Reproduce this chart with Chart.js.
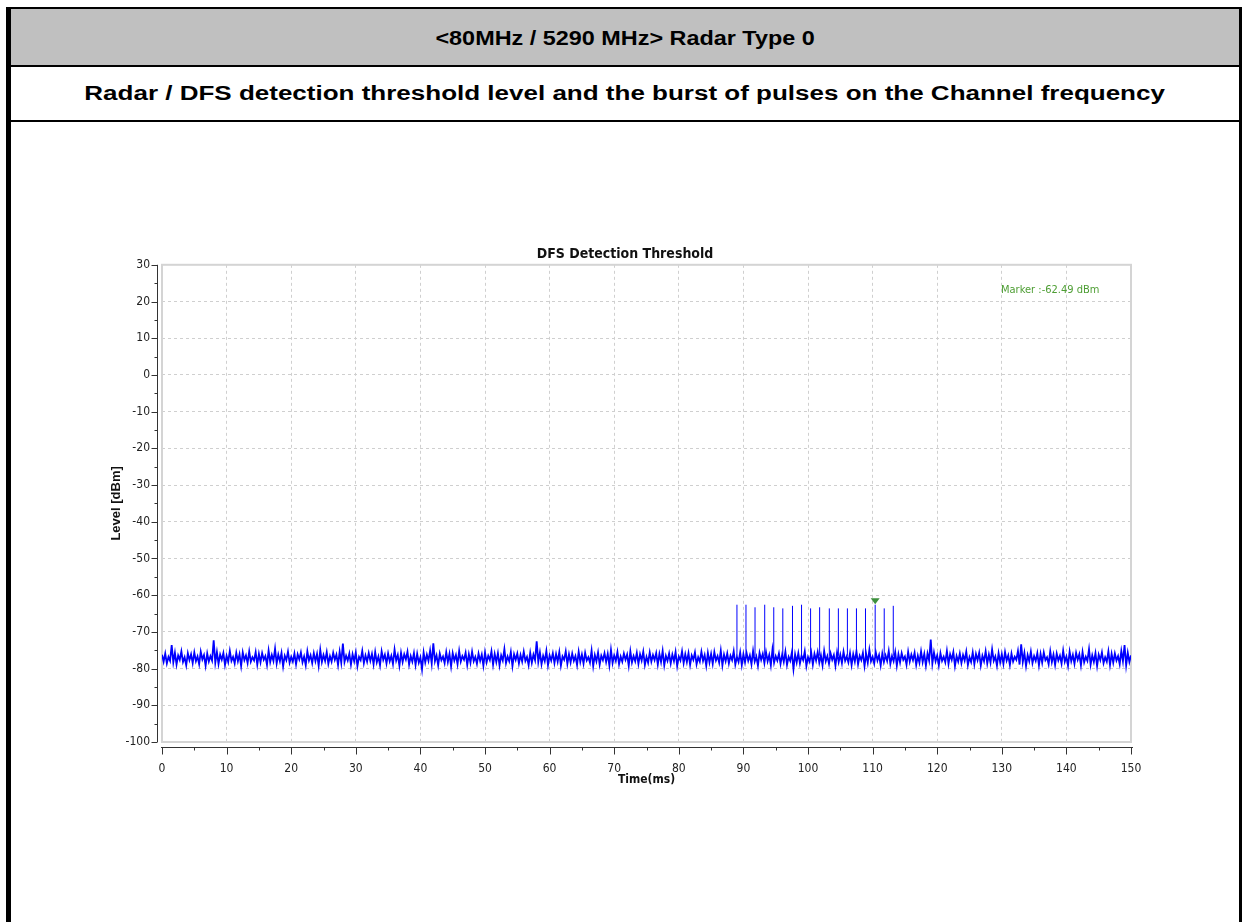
<!DOCTYPE html>
<html>
<head>
<meta charset="utf-8">
<script src="https://cdn.jsdelivr.net/npm/chart.js@4.4.1/dist/chart.umd.min.js"></script>
<style>
  body { margin: 0; width: 1242px; height: 922px; overflow: hidden; background: #fff; font-family: "Liberation Sans", Arial, sans-serif; }
  #frame { position: absolute; left: 6px; top: 7px; width: 1228px; height: 920px; border-left: 5px solid #000; border-right: 3px solid #000; border-top: 2px solid #000; }
  #head { height: 56px; background: #c0c0c0; border-bottom: 2px solid #000; text-align: center; font-weight: bold; font-size: 20px; line-height: 58px; }
  #sub { height: 53px; border-bottom: 2px solid #000; text-align: center; font-weight: bold; font-size: 20px; line-height: 53px; }
  #head span, #sub span { display: inline-block; }
  #head span { transform: scaleX(1.17); }
  #sub span { transform: scaleX(1.3); }
  #chartBox { position: absolute; left: 0; top: 0; width: 1242px; height: 922px; }
</style>
</head>
<body>
<div id="frame">
  <div id="head"><span>&lt;80MHz / 5290 MHz&gt; Radar Type 0</span></div>
  <div id="sub"><span>Radar / DFS detection threshold level and the burst of pulses on the Channel frequency</span></div>
</div>
<div id="chartBox"><canvas id="dfsChart" width="1242" height="922"></canvas></div>
<script>
// noise floor trace, one reading every 0.25 ms from 0 to 150 ms (dBm)
var noiseStep = 0.25;
var noiseLevels = [
  -76.2,-78.1,-75.9,-78.6,-76.8,-77.9,-73.6,-78.3,-75.7,-78.9,-76.4,-77.6,-75.3,-78.2,-76.9,-79.1,-75.8,-77.7,-76.1,-78.5,
  -75.6,-78.0,-76.7,-78.8,-75.4,-77.5,-76.3,-79.2,-75.9,-78.1,-76.6,-77.8,-72.3,-78.4,-75.5,-78.7,-76.2,-77.6,-75.8,-79.0,
  -76.5,-78.2,-75.2,-77.9,-76.8,-78.6,-75.7,-78.0,-76.1,-79.3,-75.6,-77.7,-76.4,-78.5,-75.3,-78.1,-76.9,-77.8,-75.5,-78.9,
  -76.0,-78.3,-75.8,-77.6,-76.6,-79.0,-75.1,-78.2,-76.3,-77.9,-74.6,-78.6,-76.2,-78.0,-75.7,-79.4,-76.5,-77.7,-75.4,-78.4,
  -76.8,-78.1,-75.9,-78.8,-76.1,-77.5,-75.6,-78.3,-76.7,-79.1,-75.3,-77.8,-76.4,-78.5,-75.8,-78.0,-76.0,-79.2,-74.9,-78.2,
  -76.3,-77.9,-75.5,-78.7,-76.6,-78.1,-75.7,-77.6,-76.2,-79.0,-75.4,-78.4,-73.2,-78.2,-76.5,-77.8,-75.9,-78.9,-76.1,-78.0,
  -75.6,-79.3,-76.8,-77.7,-75.2,-78.5,-76.4,-78.1,-75.8,-77.9,-76.0,-78.8,-75.5,-78.3,-76.7,-79.1,-75.3,-77.6,-76.2,-78.6,
  -75.9,-78.0,-76.5,-78.7,-74.8,-77.8,-76.3,-79.2,-75.7,-78.2,-76.1,-77.5,-75.4,-78.9,-76.6,-78.1,-75.8,-79.0,-76.0,-78.4,
  -76.9,-80.2,-75.6,-78.3,-76.2,-77.9,-75.1,-78.6,-73.1,-78.0,-76.4,-79.1,-75.9,-77.7,-76.7,-78.5,-75.5,-78.2,-76.0,-79.4,
  -75.8,-77.8,-76.3,-78.8,-75.2,-78.1,-76.6,-77.6,-75.7,-79.0,-76.1,-78.4,-75.4,-78.0,-76.8,-78.7,-75.9,-77.9,-76.2,-79.2,
  -75.6,-78.3,-76.5,-77.7,-75.3,-78.9,-76.0,-78.2,-75.8,-79.1,-76.4,-77.8,-74.7,-78.5,-76.7,-78.0,-75.5,-79.3,-76.1,-77.6,
  -75.9,-78.6,-76.3,-78.1,-75.4,-77.9,-76.8,-79.0,-75.7,-78.4,-76.2,-77.7,-72.6,-78.2,-75.6,-78.8,-76.5,-78.0,-75.2,-79.1,
  -76.4,-77.8,-75.8,-78.5,-76.0,-78.1,-75.5,-79.2,-76.7,-77.6,-75.3,-78.7,-76.1,-78.3,-75.9,-77.9,-76.6,-79.0,-75.4,-78.2,
  -76.2,-78.6,-75.7,-77.8,-76.9,-78.4,-75.1,-79.3,-76.3,-78.0,-75.6,-78.9,-76.5,-77.7,-75.8,-78.2,-76.0,-79.1,-74.9,-78.5,
  -76.4,-77.9,-75.5,-78.8,-76.7,-78.1,-75.9,-77.6,-76.2,-79.2,-75.3,-78.3,-76.6,-78.0,-75.7,-78.7,-76.1,-77.8,-75.4,-79.0,
  -76.8,-78.4,-75.6,-78.1,-76.3,-77.7,-75.8,-78.9,-76.0,-78.2,-75.2,-79.1,-76.5,-77.9,-75.9,-78.6,-76.2,-78.0,-75.5,-79.3,
  -76.7,-77.8,-75.3,-78.5,-76.1,-78.2,-75.8,-79.0,-76.4,-77.6,-75.6,-78.8,-76.9,-78.1,-75.4,-77.9,-76.3,-79.2,-75.7,-78.3,
  -76.0,-78.7,-75.5,-77.8,-76.6,-78.4,-75.1,-79.1,-76.2,-78.0,-75.9,-78.6,-76.5,-77.7,-75.3,-78.9,-76.8,-78.2,-75.6,-79.0,
  -76.1,-78.3,-75.8,-77.9,-76.4,-78.8,-75.2,-78.1,-76.7,-79.2,-75.7,-77.6,-76.0,-78.5,-75.5,-78.0,-76.3,-79.1,-74.8,-78.4,
  -76.6,-77.8,-75.9,-78.7,-76.2,-78.2,-75.4,-79.0,-76.8,-77.9,-75.6,-80.1,-76.1,-78.3,-75.8,-78.6,-76.5,-77.7,-75.3,-79.3,
  -76.9,-78.1,-75.7,-78.9,-76.0,-77.8,-75.5,-78.4,-76.4,-79.1,-75.2,-78.0,-76.6,-78.7,-75.9,-77.6,-76.3,-79.2,-75.6,-78.2,
  -76.2,-78.5,-75.4,-77.9,-76.7,-78.3,-75.8,-79.0,-76.1,-78.1,-75.3,-78.8,-76.5,-77.7,-75.7,-79.3,-76.0,-78.4,-74.9,-78.0,
  -76.8,-78.6,-75.6,-77.8,-76.3,-79.1,-75.9,-78.2,-76.4,-77.9,-75.2,-78.7,-76.6,-78.0,-75.5,-79.2,-76.1,-78.3,-75.8,-77.6,
  -76.7,-78.9,-75.4,-78.1,-76.2,-77.7,-75.7,-79.0,-76.5,-78.4,-75.3,-78.2,-76.0,-79.2,-75.9,-77.8,-72.1,-78.6,-75.6,-78.0,
  -76.4,-79.1,-75.8,-77.9,-76.8,-78.3,-75.2,-78.7,-76.1,-77.6,-75.5,-79.3,-76.6,-78.1,-75.9,-78.5,-76.3,-77.8,-75.4,-79.0,
  -76.9,-78.2,-75.6,-78.8,-76.0,-77.7,-75.7,-79.1,-76.5,-78.0,-75.3,-78.6,-76.2,-78.4,-74.8,-77.9,-76.7,-79.2,-75.8,-78.3,
  -76.1,-78.7,-75.5,-77.8,-76.4,-79.0,-75.9,-78.1,-76.8,-77.6,-75.2,-78.9,-73.4,-78.2,-75.7,-79.3,-76.3,-78.0,-75.4,-78.5,
  -76.6,-77.9,-75.8,-79.1,-76.0,-78.4,-75.6,-77.7,-76.9,-78.8,-75.3,-78.2,-76.2,-79.0,-75.9,-77.8,-76.5,-78.6,-75.1,-78.1,
  -76.7,-79.2,-75.4,-78.0,-76.3,-78.7,-75.7,-77.6,-76.1,-79.1,-75.5,-78.3,-76.8,-77.9,-74.7,-78.9,-76.4,-78.2,-75.8,-79.3,
  -76.2,-77.7,-75.6,-78.5,-76.9,-78.1,-75.3,-79.0,-76.0,-78.4,-75.9,-77.8,-76.6,-78.8,-75.2,-78.0,-73.6,-79.1,-75.7,-78.2,
  -76.4
];

// radar burst: 18 pulses (ms) and their peak levels (dBm)
var pulseTimes = [89.0, 90.4, 91.8, 93.3, 94.7, 96.1, 97.6, 99.0, 100.4, 101.8, 103.3, 104.7, 106.1, 107.5, 108.9, 110.4, 111.8, 113.2];
var pulseTops = [-62.6, -62.6, -63.3, -62.6, -63.3, -63.6, -62.9, -62.6, -63.6, -63.3, -63.6, -63.6, -63.6, -63.6, -63.6, -62.6, -63.6, -62.9];
var pulseBase = -76.5;

var markerTime = 110.4;
var markerLevel = -62.49;

var xTicks = [0, 10, 20, 30, 40, 50, 60, 70, 80, 90, 100, 110, 120, 130, 140, 150];
var yTicks = [30, 20, 10, 0, -10, -20, -30, -40, -50, -60, -70, -80, -90, -100];

var narrow = "'Liberation Sans Narrow', 'DejaVu Sans Condensed', 'Liberation Sans', sans-serif";

var noiseData = noiseLevels.map(function(v, i) { return { x: i * noiseStep, y: v }; });
var pulseData = [];
pulseTimes.forEach(function(t, i) {
  pulseData.push({ x: t, y: pulseBase }, { x: t, y: pulseTops[i] }, { x: t, y: null });
});

// plot frame, offset axis lines with major/minor ticks, marker
var plotDecor = {
  id: 'plotDecor',
  beforeDatasetsDraw: function(chart) {
    var ctx = chart.ctx, a = chart.chartArea;
    ctx.save();
    ctx.strokeStyle = '#d4d4d4';
    ctx.lineWidth = 2;
    ctx.strokeRect(a.left, a.top, a.right - a.left, a.bottom - a.top);
    ctx.restore();
  },
  afterDraw: function(chart) {
    var ctx = chart.ctx, a = chart.chartArea;
    var xs = chart.scales.x, ys = chart.scales.y;
    ctx.save();
    ctx.strokeStyle = '#333';
    ctx.lineWidth = 1;
    var ax = Math.round(a.left) - 4.5;
    var ay = Math.round(a.bottom) + 5.5;
    ctx.beginPath();
    ctx.moveTo(ax, a.top);
    ctx.lineTo(ax, a.bottom);
    ctx.moveTo(a.left - 1, ay);
    ctx.lineTo(a.right + 2, ay);
    for (var v = -100; v <= 30; v += 5) {
      var py = Math.round(ys.getPixelForValue(v)) + 0.5;
      ctx.moveTo(ax, py);
      ctx.lineTo(ax - (v % 10 === 0 ? 6 : 3), py);
    }
    for (var t = 0; t <= 150; t += 5) {
      var px = Math.round(xs.getPixelForValue(t)) + 0.5;
      ctx.moveTo(px, ay);
      ctx.lineTo(px, ay + (t % 10 === 0 ? 7 : 3));
    }
    ctx.stroke();

    // marker triangle sitting on the marked pulse
    var mx = xs.getPixelForValue(markerTime);
    var my = ys.getPixelForValue(markerLevel);
    ctx.fillStyle = '#3d8f3d';
    ctx.beginPath();
    ctx.moveTo(mx, my);
    ctx.lineTo(mx - 4.5, my - 6);
    ctx.lineTo(mx + 4.5, my - 6);
    ctx.closePath();
    ctx.fill();

    ctx.fillStyle = '#4e9e34';
    ctx.font = '11px ' + narrow;
    ctx.textBaseline = 'middle';
    ctx.fillText('Marker :' + markerLevel.toFixed(2) + ' dBm', 1001, 290);
    ctx.restore();
  }
};

window.onload = function() {
  Chart.defaults.font.family = narrow;
  new Chart(document.getElementById('dfsChart'), {
    type: 'line',
    data: {
      datasets: [
        {
          label: 'Level',
          data: noiseData,
          borderColor: '#0000ff',
          borderWidth: 1.8,
          pointRadius: 0,
          tension: 0
        },
        {
          label: 'Pulses',
          data: pulseData,
          borderColor: '#0000ff',
          borderWidth: 1,
          pointRadius: 0,
          spanGaps: false
        }
      ]
    },
    options: {
      responsive: false,
      animation: false,
      events: [],
      layout: { padding: { left: 119, right: 111, top: 246, bottom: 100 } },
      plugins: {
        legend: { display: false },
        tooltip: { enabled: false },
        title: {
          display: true,
          text: 'DFS Detection Threshold',
          color: '#111',
          font: { size: 14, weight: 'bold', family: narrow },
          padding: { top: 0, bottom: 2 }
        }
      },
      scales: {
        x: {
          type: 'linear',
          min: 0,
          max: 150,
          afterFit: function(s) { s.height = 80; },
          afterBuildTicks: function(s) { s.ticks = xTicks.map(function(v) { return { value: v }; }); },
          ticks: { color: '#222', font: { size: 12 }, padding: 20, maxRotation: 0 },
          grid: { color: '#cfcfcf', drawTicks: false },
          border: { display: false, dash: [3, 3] },
          title: {
            display: true,
            text: 'Time(ms)',
            color: '#111',
            font: { size: 12, weight: 'bold' },
            padding: { top: 0, bottom: 35 }
          }
        },
        y: {
          min: -100,
          max: 30,
          afterFit: function(s) { s.width = 43; },
          afterBuildTicks: function(s) { s.ticks = yTicks.map(function(v) { return { value: v }; }); },
          ticks: { color: '#222', font: { size: 12 }, padding: 12 },
          grid: { color: '#cfcfcf', drawTicks: false },
          border: { display: false, dash: [3, 3] },
          title: {
            display: true,
            text: 'Level [dBm]',
            color: '#111',
            font: { size: 13, weight: 'bold', family: "'Liberation Sans', Arial, sans-serif" },
            padding: { top: -10, bottom: 0 }
          }
        }
      }
    },
    plugins: [plotDecor]
  });
};
</script>
</body>
</html>
